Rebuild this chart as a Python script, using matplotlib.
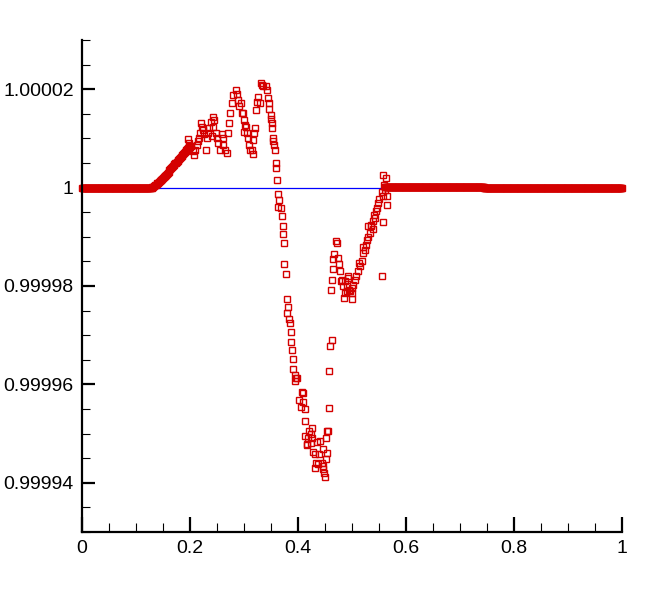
import numpy as np
import matplotlib
matplotlib.use("Agg")
import matplotlib.pyplot as plt
from matplotlib.ticker import FixedLocator, FixedFormatter, MultipleLocator

# ---------------- data ----------------
# exact solution (blue line)
exact_x = [0.0, 1.0]
exact_y = [1.0, 1.0]

# flat undisturbed regions of the numerical solution: (x_start, x_end, value)
flat_left = (0.0, 0.125, 1.0)
flat_right_a = (0.561, 0.744, 1.0000002)
flat_right_b = (0.745, 1.0, 1.0)
grid_step = 0.001

# smooth rising front
rise_x = [0.1260, 0.1275, 0.1290, 0.1305, 0.1320, 0.1335, 0.1350, 0.1365, 0.1380, 0.1395,
          0.1410, 0.1425, 0.1440, 0.1455, 0.1470, 0.1485, 0.1500, 0.1515, 0.1530, 0.1545,
          0.1560, 0.1575, 0.1590, 0.1605, 0.1620, 0.1635, 0.1650, 0.1665, 0.1680, 0.1695,
          0.1710, 0.1725, 0.1740, 0.1755, 0.1770, 0.1785, 0.1800, 0.1815, 0.1830, 0.1845,
          0.1860, 0.1875, 0.1890, 0.1905, 0.1920, 0.1935, 0.1950, 0.1965, 0.1980, 0.1995,
          0.2010]
rise_y = [1.00000000, 1.00000000, 1.00000000, 1.00000010, 1.00000020, 1.00000035, 1.00000050,
          1.00000060, 1.00000070, 1.00000085, 1.00000100, 1.00000115, 1.00000130, 1.00000145,
          1.00000160, 1.00000175, 1.00000190, 1.00000210, 1.00000230, 1.00000245, 1.00000260,
          1.00000280, 1.00000300, 1.00000325, 1.00000350, 1.00000370, 1.00000390, 1.00000410,
          1.00000430, 1.00000450, 1.00000470, 1.00000490, 1.00000510, 1.00000530, 1.00000550,
          1.00000570, 1.00000590, 1.00000610, 1.00000630, 1.00000650, 1.00000670, 1.00000690,
          1.00000710, 1.00000730, 1.00000750, 1.00000770, 1.00000790, 1.00000805, 1.00000820,
          1.00000830, 1.00000840]

# scattered oscillatory region
osc_x = [0.1969, 0.1987, 0.2000, 0.2061, 0.2080, 0.2093, 0.2124, 0.2154, 0.2172, 0.2185,
         0.2204, 0.2217, 0.2246, 0.2265, 0.2296, 0.2309, 0.2339, 0.2357, 0.2383, 0.2420,
         0.2444, 0.2431, 0.2402, 0.2481, 0.2506, 0.2524, 0.2556, 0.2587, 0.2617, 0.2617,
         0.2648, 0.2691, 0.2709, 0.2728, 0.2741, 0.2772, 0.2802, 0.2852, 0.2865, 0.2883,
         0.2913, 0.2957, 0.3000, 0.3037, 0.3061, 0.3080, 0.3098, 0.3111,
         0.2944, 0.2976, 0.3000, 0.3019, 0.3143, 0.3161, 0.3172, 0.3185, 0.3204, 0.3217,
         0.3246, 0.3265, 0.3296, 0.3309, 0.3328, 0.3357, 0.3407, 0.3420, 0.3450, 0.3469,
         0.3469, 0.3494, 0.3500, 0.3513, 0.3524, 0.3531, 0.3543, 0.3561, 0.3574, 0.3587,
         0.3593, 0.3606,
         0.3635, 0.3654, 0.3635, 0.3680, 0.3698, 0.3717, 0.3717, 0.3741, 0.3741, 0.3772,
         0.3791, 0.3820, 0.3802, 0.3839, 0.3852, 0.3865,
         0.3865, 0.3883, 0.3902, 0.3913, 0.3944, 0.3963, 0.3944, 0.3976, 0.4069, 0.4087,
         0.4024, 0.4098, 0.4050, 0.4130, 0.4130, 0.4254, 0.4209, 0.4235, 0.4130, 0.4191,
         0.4254, 0.4161, 0.4235, 0.4172, 0.4357, 0.4407, 0.4272, 0.4315, 0.4394, 0.4457,
         0.4543, 0.4519, 0.4333, 0.4376, 0.4439, 0.4469, 0.4315, 0.4457, 0.4481, 0.4500,
         0.4531, 0.4561, 0.4519, 0.4580, 0.4580, 0.4593, 0.4624,
         0.4704, 0.4717, 0.4667, 0.4643, 0.4746, 0.4765, 0.4654, 0.4778, 0.4624, 0.4809,
         0.4606, 0.4870, 0.4902, 0.4870, 0.4852, 0.4931, 0.4839, 0.4931, 0.4902, 0.4950,
         0.4994, 0.4994, 0.4791,
         0.4963, 0.4994, 0.5024, 0.5056, 0.5074, 0.5117, 0.5148, 0.5135, 0.5180, 0.5198,
         0.5241, 0.5209, 0.5259, 0.5272, 0.5302, 0.5333, 0.5383, 0.5302, 0.5346, 0.5357,
         0.5389, 0.5420, 0.5407, 0.5450, 0.5469, 0.5481, 0.5494, 0.5580, 0.5643, 0.5643,
         0.5569, 0.5550, 0.5611, 0.5598, 0.5624, 0.5580, 0.5550]
osc_y = [1.0000099, 1.0000091, 1.0000084, 1.0000074, 1.0000067, 1.0000077, 1.0000087, 1.0000094, 1.0000101, 1.0000111,
         1.0000131, 1.0000124, 1.0000118, 1.0000108, 1.0000077, 1.0000101, 1.0000111, 1.0000121, 1.0000133, 1.0000144,
         1.0000138, 1.0000124, 1.0000104, 1.0000111, 1.0000101, 1.0000091, 1.0000077, 1.0000108, 1.0000101, 1.0000087,
         1.0000077, 1.0000070, 1.0000111, 1.0000131, 1.0000152, 1.0000172, 1.0000189, 1.0000199, 1.0000191, 1.0000179,
         1.0000165, 1.0000152, 1.0000138, 1.0000124, 1.0000111, 1.0000101, 1.0000087, 1.0000077,
         1.0000172, 1.0000152, 1.0000114, 1.0000128, 1.0000077, 1.0000069, 1.0000097, 1.0000111, 1.0000121, 1.0000157,
         1.0000175, 1.0000185, 1.0000172, 1.0000213, 1.0000209, 1.0000206, 1.0000206, 1.0000199, 1.0000182, 1.0000172,
         1.0000160, 1.0000148, 1.0000139, 1.0000131, 1.0000121, 1.0000101, 1.0000094, 1.0000087, 1.0000077, 1.0000050,
         1.0000039, 1.0000015,
         0.9999988, 0.9999974, 0.9999961, 0.9999959, 0.9999943, 0.9999921, 0.9999905, 0.9999888, 0.9999844, 0.9999825,
         0.9999774, 0.9999758, 0.9999746, 0.9999732, 0.9999725, 0.9999706,
         0.9999686, 0.9999670, 0.9999652, 0.9999631, 0.9999620, 0.9999614, 0.9999607, 0.9999612, 0.9999584, 0.9999582,
         0.9999568, 0.9999564, 0.9999555, 0.9999551, 0.9999526, 0.9999512, 0.9999505, 0.9999499, 0.9999495, 0.9999492,
         0.9999492, 0.9999478, 0.9999480, 0.9999476, 0.9999482, 0.9999485, 0.9999463, 0.9999458, 0.9999458, 0.9999468,
         0.9999461, 0.9999448, 0.9999441, 0.9999438, 0.9999441, 0.9999434, 0.9999431, 0.9999429, 0.9999419, 0.9999411,
         0.9999505, 0.9999505, 0.9999492, 0.9999553, 0.9999627, 0.9999679, 0.9999691,
         0.9999891, 0.9999888, 0.9999866, 0.9999854, 0.9999857, 0.9999844, 0.9999835, 0.9999830, 0.9999813, 0.9999813,
         0.9999791, 0.9999810, 0.9999800, 0.9999786, 0.9999776, 0.9999817, 0.9999800, 0.9999820, 0.9999789, 0.9999792,
         0.9999786, 0.9999773, 0.9999810,
         0.9999789, 0.9999796, 0.9999803, 0.9999813, 0.9999820, 0.9999830, 0.9999840, 0.9999847, 0.9999850, 0.9999867,
         0.9999874, 0.9999880, 0.9999884, 0.9999894, 0.9999900, 0.9999908, 0.9999915, 0.9999921, 0.9999921, 0.9999925,
         0.9999932, 0.9999938, 0.9999945, 0.9999952, 0.9999959, 0.9999969, 0.9999977, 0.9999982, 0.9999982, 0.9999965,
         0.9999930, 0.9999992, 0.9999996, 1.0000006, 1.0000020, 1.0000026, 0.9999821]

x_ticks = [0.0, 0.2, 0.4, 0.6, 0.8, 1.0]
x_tick_labels = ["0", "0.2", "0.4", "0.6", "0.8", "1"]
y_ticks = [0.99994, 0.99996, 0.99998, 1.0, 1.00002]
y_tick_labels = ["0.99994", "0.99996", "0.99998", "1", "1.00002"]

# ---------------- build series ----------------
def flat(seg):
    x0, x1, v = seg
    xs = np.arange(x0, x1 + 1e-9, grid_step)
    return xs, np.full_like(xs, v)

fx1, fy1 = flat(flat_left)
fx2, fy2 = flat(flat_right_a)
fx3, fy3 = flat(flat_right_b)
num_x = np.concatenate([fx1, rise_x, osc_x, fx2, fx3])
num_y = np.concatenate([fy1, rise_y, osc_y, fy2, fy3])

# ---------------- plot ----------------
plt.rcParams['font.family'] = ['Liberation Sans', 'DejaVu Sans']
fig = plt.figure(figsize=(6.48, 6.04), dpi=100)
ax = fig.add_axes([82 / 648, 72 / 604, 540 / 648, 492 / 604])

ax.plot(exact_x, exact_y, color='#0000ff', lw=0.9, zorder=2)
ax.plot(num_x, num_y, linestyle='none', marker='s', markersize=4.9,
        markerfacecolor='none', markeredgecolor='#d40000', markeredgewidth=1.0,
        zorder=3, clip_on=False)

ax.set_xlim(0, 1)
ax.set_ylim(0.99993, 1.00003)

for s in ['top', 'right']:
    ax.spines[s].set_visible(False)
for s in ['left', 'bottom']:
    ax.spines[s].set_linewidth(1.6)
    ax.spines[s].set_zorder(4)

ax.xaxis.set_major_locator(FixedLocator(x_ticks))
ax.xaxis.set_major_formatter(FixedFormatter(x_tick_labels))
ax.xaxis.set_minor_locator(MultipleLocator(0.05))
ax.yaxis.set_major_locator(FixedLocator(y_ticks))
ax.yaxis.set_major_formatter(FixedFormatter(y_tick_labels))
ax.yaxis.set_minor_locator(FixedLocator(list(np.arange(0.99993, 1.000031, 0.000005))))

ax.tick_params(axis='x', which='major', direction='in', length=11, width=1.6,
               labelsize=14, pad=6, top=False)
ax.tick_params(axis='x', which='minor', direction='in', length=6.5, width=0.8,
               top=False)
ax.tick_params(axis='y', which='major', direction='in', length=9.5, width=1.6,
               labelsize=14, pad=6, right=False)
ax.tick_params(axis='y', which='minor', direction='in', length=5.5, width=0.8,
               right=False)

fig.savefig('out.png', dpi=100)
